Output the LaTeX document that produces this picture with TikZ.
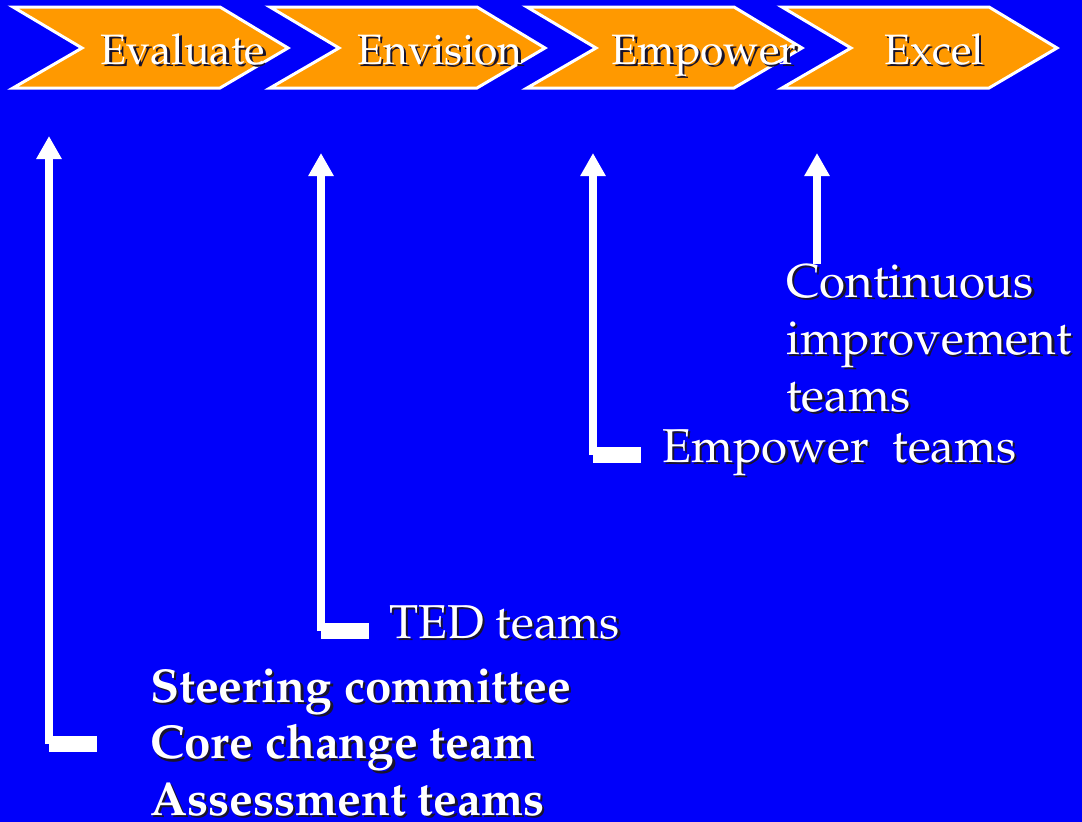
\documentclass[tikz,border=0pt]{standalone}
\usepackage[T1]{fontenc}
\usepackage{mathpazo}
\usetikzlibrary{arrows.meta}

\definecolor{slideblue}{RGB}{0,0,250}
\definecolor{stepfill}{RGB}{255,153,0}
\definecolor{textshade}{RGB}{25,20,45}

% white letters with a dark drop shadow
\newcommand{\shadowed}[1]{\leavevmode\rlap{\kern2.5pt\raisebox{-2.5pt}{\color{textshade}#1}}#1}

\begin{document}
\begin{tikzpicture}[x=1pt, y=-1pt,
phase/.style={draw=white, line width=3pt, fill=stepfill, line join=miter},
phasetext/.style={text=white, inner sep=0pt, anchor=base, font=\fontsize{42.5}{50}\selectfont},
teams/.style={text=white, inner sep=0pt, anchor=base west, align=left, font=\fontsize{47.5}{57}\selectfont},
boldteams/.style={teams, font=\fontsize{47.5}{56.5}\selectfont\bfseries},
shaft/.style={white, line width=8pt, -{Triangle[width=24pt,length=23pt]}},
foot/.style={white, line width=16pt}
]
\fill[slideblue] (0,0) rectangle (1082,822);
\useasboundingbox (0,0) rectangle (1082,822);

% the four phases
\foreach \i/\x/\c/\name in {1/13/183/Evaluate, 2/270/440/Envision,
                            3/527/704/Empower, 4/782/934/Excel}{
  \draw[phase] (\x,7) -- ++(207,0) -- ++(68,41) -- ++(-68,40)
               -- ++(-207,0) -- ++(69,-40) -- cycle;
  \node[phasetext] (p\i) at (\c,64) {\shadowed{\name}};
}

% teams (multi-line nodes sit on their last baseline)
\node[boldteams] (steer) at (150,815) {\shadowed{Steering committee}\\
  \shadowed{Core change team}\\ \shadowed{Assessment teams}};
\node[teams] (ted) at (389,638) {\shadowed{TED teams}};
\node[teams] (emp) at (662,462) {\shadowed{Empower\ \ teams}};
\node[teams] (cont) at (786,411) {\shadowed{Continuous}\\
  \shadowed{improvement}\\ \shadowed{teams}};

% arrows up to the phases
\foreach \n/\x/\y/\t in {1/49/744/136, 2/321/631/153, 3/593/455/153}{
  \coordinate (knee\n) at (\x,\y);
  \coordinate (aim\n) at (\x,\t);
  \coordinate (end\n) at (\x+48,\y);
  \draw[foot] (knee\n) -- (end\n);
  \draw[shaft] (knee\n) -- (aim\n);
}
\coordinate (knee4) at (817,264);
\coordinate (aim4) at (817,153);
\draw[shaft] (knee4) -- (aim4);
\end{tikzpicture}
\end{document}
